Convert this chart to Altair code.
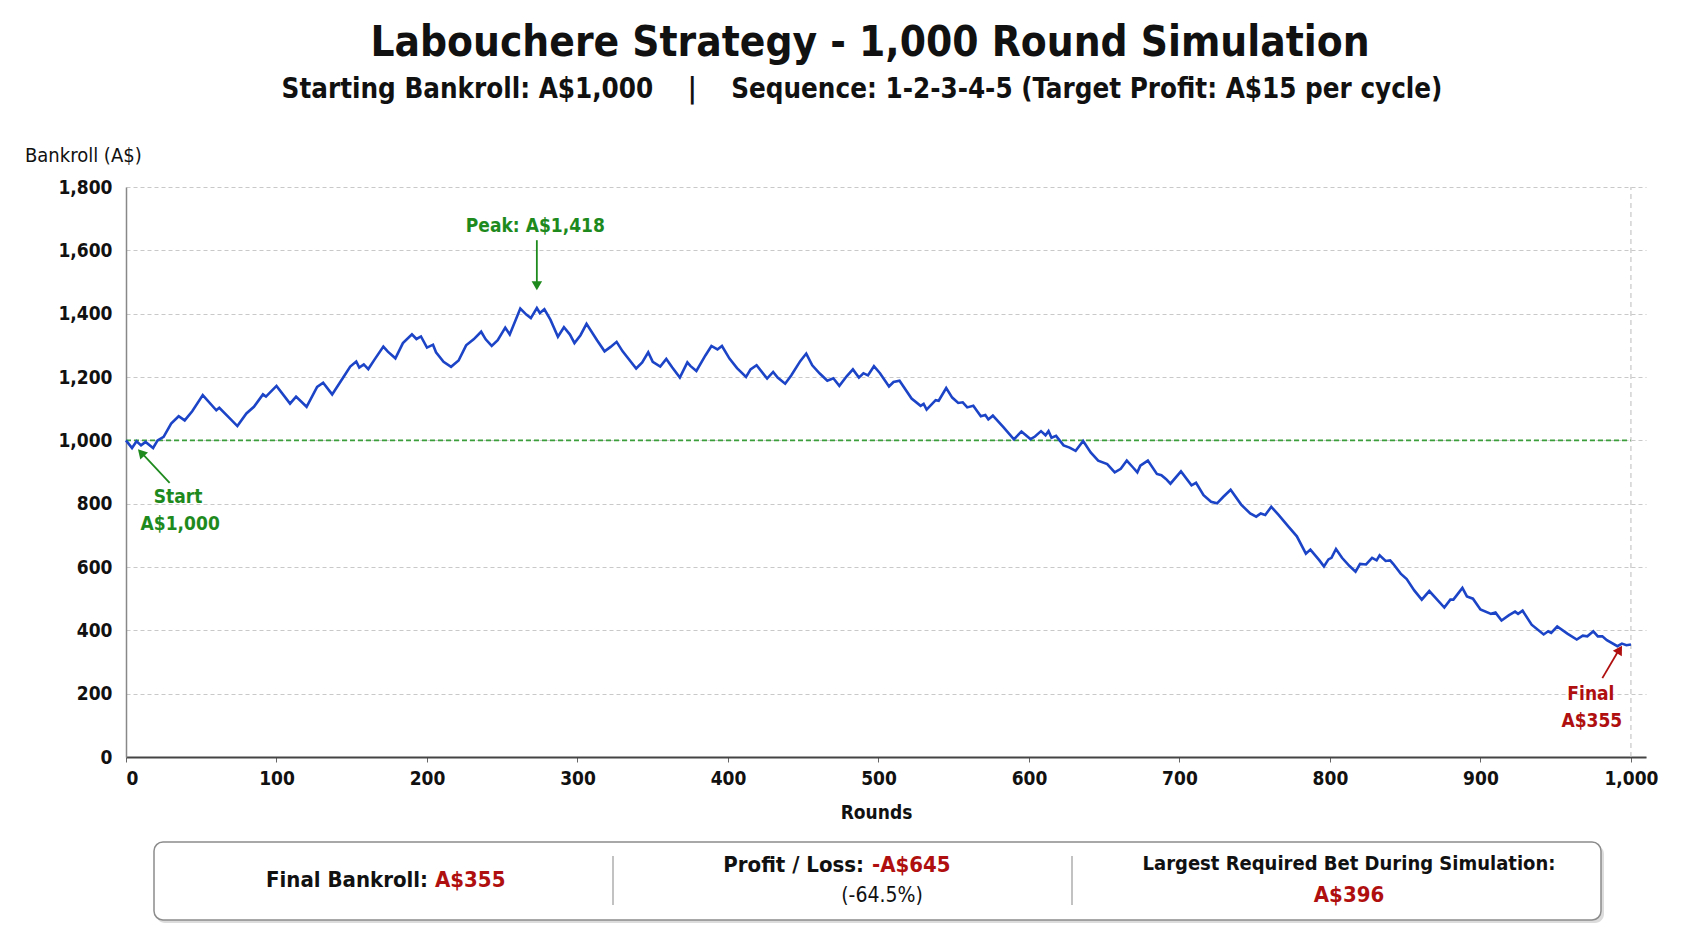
import altair as alt
import pandas as pd

# ---------------- data ----------------
rounds = [0, 4, 7, 10, 13, 18, 21, 25, 30, 35, 39, 44, 51, 60, 62, 68, 74, 80, 85, 91,
          93, 100, 109, 113, 120, 127, 131, 137, 144, 149, 153, 155, 158, 161, 165, 171, 174, 179, 184, 190,
          193, 196, 200, 204, 206, 211, 216, 221, 226, 231, 236, 239, 243, 247, 252, 255, 262, 266, 269, 273,
          275, 278, 282, 287, 291, 295, 298, 302, 306, 313, 318, 322, 326, 330, 339, 343, 347, 350, 355, 359,
          363, 368, 373, 375, 379, 385, 389, 393, 396, 401, 406, 412, 415, 419, 426, 430, 433, 438, 442, 448,
          452, 456, 461, 466, 470, 474, 479, 483, 487, 490, 493, 497, 501, 507, 510, 514, 522, 528, 530, 532,
          538, 540, 545, 549, 553, 556, 559, 563, 568, 571, 573, 576, 583, 590, 595, 601, 604, 608, 611, 613,
          615, 618, 623, 627, 631, 636, 641, 646, 652, 657, 661, 665, 669, 672, 674, 679, 685, 688, 691, 694,
          701, 708, 711, 716, 721, 725, 729, 734, 741, 747, 751, 754, 757, 761, 766, 772, 778, 784, 787, 793,
          796, 799, 801, 804, 808, 813, 817, 820, 824, 828, 831, 833, 837, 840, 842, 847, 851, 856, 861, 866,
          870, 876, 880, 882, 888, 891, 895, 900, 907, 910, 914, 919, 923, 925, 928, 934, 942, 945, 947, 951,
          958, 964, 968, 971, 975, 978, 981, 984, 991, 994, 997, 1000]
bankroll = [1000, 976, 997, 984, 995, 976, 1000, 1011, 1053, 1076, 1063, 1092, 1143, 1095, 1103, 1074, 1045, 1085, 1106, 1145,
            1138, 1172, 1116, 1138, 1106, 1169, 1182, 1145, 1196, 1233, 1249, 1230, 1240, 1225, 1254, 1296, 1280, 1259, 1307, 1335,
            1320, 1328, 1293, 1302, 1278, 1248, 1232, 1252, 1300, 1319, 1343, 1319, 1298, 1316, 1356, 1334, 1416, 1397, 1386, 1418,
            1402, 1414, 1381, 1327, 1357, 1334, 1307, 1332, 1368, 1316, 1281, 1295, 1311, 1281, 1227, 1246, 1278, 1248, 1233, 1257,
            1230, 1198, 1246, 1235, 1219, 1268, 1298, 1287, 1298, 1258, 1228, 1200, 1224, 1237, 1195, 1216, 1198, 1179, 1205, 1250,
            1274, 1237, 1211, 1188, 1196, 1172, 1203, 1224, 1198, 1212, 1205, 1234, 1212, 1170, 1184, 1188, 1132, 1109, 1115, 1097,
            1127, 1125, 1165, 1135, 1118, 1120, 1104, 1109, 1076, 1080, 1066, 1078, 1042, 1003, 1028, 1004, 1012, 1029, 1016, 1029,
            1008, 1014, 984, 977, 967, 998, 962, 936, 925, 899, 910, 936, 915, 899, 920, 936, 894, 890, 878, 863,
            902, 858, 866, 827, 806, 801, 821, 844, 797, 769, 759, 769, 764, 790, 764, 730, 697, 642, 655, 621,
            602, 624, 629, 657, 629, 603, 585, 610, 608, 629, 621, 637, 619, 621, 610, 579, 562, 526, 497, 524,
            503, 472, 497, 497, 534, 507, 500, 466, 452, 456, 431, 448, 459, 452, 462, 418, 387, 397, 392, 412,
            389, 371, 383, 381, 397, 381, 381, 369, 350, 358, 353, 355]

x_ticks = [0, 100, 200, 300, 400, 500, 600, 700, 800, 900, 1000]
y_ticks = [0, 200, 400, 600, 800, 1000, 1200, 1400, 1600, 1800]

START = 1000
FINAL = 355
PEAK = 1418
LARGEST_BET = 396
PROFIT = FINAL - START
PCT = PROFIT / START * 100

title_text = "Labouchere Strategy - 1,000 Round Simulation"
NB = "\u00a0"
subtitle_text = ("Starting Bankroll: A$1,000" + NB * 4 + "|" + NB * 4 +
                 "Sequence: 1-2-3-4-5 (Target Profit: A$15 per cycle)")

# ---------------- styling ----------------
FONT = "DejaVu Sans Condensed, Liberation Sans Narrow, Roboto, sans-serif"
BLUE = "#1c44c6"
GREEN = "#1e8a1e"
RED = "#b00f0f"
W, H = 1520, 570
XMAX = 1010

df = pd.DataFrame({"round": rounds, "bankroll": bankroll})

x_enc = alt.X("round:Q",
              scale=alt.Scale(domain=[0, XMAX], nice=False, zero=True),
              axis=alt.Axis(values=x_ticks, format=",.0f", title="Rounds", grid=False,
                            domainColor="#444", domainWidth=2, tickColor="#666", tickSize=5,
                            labelFontSize=19, labelPadding=7, labelColor="#111",
                            labelFontWeight="bold",
                            titleFontSize=19, titlePadding=15, titleColor="#111",
                            titleFontWeight="bold", titleX=750))
y_enc = alt.Y("bankroll:Q",
              scale=alt.Scale(domain=[0, 1800], nice=False),
              axis=alt.Axis(values=y_ticks, format=",.0f", title=None, grid=True,
                            gridColor="#c9c9c9", gridDash=[4, 3], gridWidth=1.2,
                            domainColor="#888", domainWidth=1.5, ticks=False,
                            labelFontSize=19, labelPadding=14, labelColor="#111",
                            labelFontWeight="bold"))

one = pd.DataFrame({"a": [0]})

line = alt.Chart(df).mark_line(color=BLUE, strokeWidth=2.6).encode(x=x_enc, y=y_enc)

ref = alt.Chart(pd.DataFrame({"round": [0], "round2": [1000], "bankroll": [START]})).mark_rule(
    color="#3b9e3b", strokeDash=[5, 3], strokeWidth=1.6).encode(x=x_enc, x2="round2:Q", y=y_enc)

right_edge = alt.Chart(pd.DataFrame({"round": [1000], "bankroll": [0], "bankroll2": [1800]})).mark_rule(
    color="#bbbbbb", strokeDash=[5, 4], strokeWidth=1).encode(x=x_enc, y=y_enc, y2="bankroll2:Q")

# annotation arrows (data coordinates)
def arrow(x1, y1, x2, y2, color):
    d = pd.DataFrame({"round": [x1], "bankroll": [y1], "round2": [x2], "bankroll2": [y2]})
    return alt.Chart(d).mark_rule(color=color, strokeWidth=1.8).encode(
        x=x_enc, y=y_enc, x2="round2:Q", y2="bankroll2:Q")

def head(xv, yv, color, angle, shape="triangle-up"):
    d = pd.DataFrame({"round": [xv], "bankroll": [yv]})
    return alt.Chart(d).mark_point(shape=shape, filled=True, size=110, color=color,
                                   opacity=1, angle=angle).encode(x=x_enc, y=y_enc)

def dtext(text, xv, yv, color, size=19):
    d = pd.DataFrame({"round": [xv], "bankroll": [yv]})
    return alt.Chart(d).mark_text(text=text, color=color, font=FONT, fontSize=size,
                                  fontWeight="bold", align="center", baseline="middle").encode(x=x_enc, y=y_enc)

peak_arrow = arrow(273, 1632, 273, 1500, GREEN) + head(273, 1488, GREEN, 180)
peak_text = dtext("Peak: A$1,418", 272, 1677, GREEN)
start_arrow = arrow(29, 866, 11, 957, GREEN) + head(10, 961, GREEN, 317)
start_text = dtext("Start", 34.6, 821, GREEN) + dtext("A$1,000", 36, 736, GREEN)
final_arrow = arrow(981, 249, 991, 330, RED) + head(992.5, 339, RED, 31)
final_text = dtext("Final", 973.4, 199, RED) + dtext("A$355", 974, 114, RED)

# free text in pixel positions (relative to plot origin)
def ptext(text, x, y, size, color="#111", weight="bold", align="center"):
    return alt.Chart(one).mark_text(text=text, color=color, font=FONT, fontSize=size,
                                    fontWeight=weight, align=align, baseline="middle").encode(
        x=alt.value(x), y=alt.value(y))

title = ptext(title_text, 744, -144, 42)
subtitle = ptext(subtitle_text, 736, -97, 27.5)
ylab = ptext("Bankroll (A$)", -101, -31, 20, weight="normal", align="left")

# summary box
shadow = alt.Chart(one).mark_rect(cornerRadius=9, fill="#dcdcdc").encode(
    x=alt.value(30), x2=alt.value(1478), y=alt.value(658), y2=alt.value(736))
box = alt.Chart(one).mark_rect(cornerRadius=9, fill="white", stroke="#8c8c8c", strokeWidth=1.5).encode(
    x=alt.value(28), x2=alt.value(1475), y=alt.value(655), y2=alt.value(733))
div1 = alt.Chart(one).mark_rule(color="#999", strokeWidth=1.2).encode(
    x=alt.value(487), y=alt.value(669), y2=alt.value(718))
div2 = alt.Chart(one).mark_rule(color="#999", strokeWidth=1.2).encode(
    x=alt.value(946), y=alt.value(669), y2=alt.value(718))

b1 = ptext("Final Bankroll:", 302, 693, 22, align="right") + \
     ptext(f"A${FINAL}", 309, 693, 22, color=RED, align="left")
b2 = ptext("Profit / Loss:", 738, 678, 22, align="right") + \
     ptext(f"-A${abs(PROFIT)}", 746, 678, 22, color=RED, align="left") + \
     ptext(f"({PCT:.1f}%)", 756, 709, 21, weight="normal")
b3 = ptext("Largest Required Bet During Simulation:", 1223, 677, 20) + \
     ptext(f"A${LARGEST_BET}", 1223, 708, 22, color=RED)

chart = alt.layer(
    ref, right_edge, line,
    peak_arrow, peak_text, start_arrow, start_text, final_arrow, final_text,
    title, subtitle, ylab,
    shadow, box, div1, div2, b1, b2, b3,
).properties(
    width=W, height=H,
    autosize=alt.AutoSizeParams(type="none"),
    padding={"left": 126, "top": 187, "right": 1693 - 126 - W, "bottom": 929 - 187 - H},
    background="white",
).configure_view(strokeWidth=0).configure_axis(
    labelFont=FONT, titleFont=FONT
).configure_text(font=FONT)

chart.save("out.html", embed_options={"renderer": "svg", "actions": False})
